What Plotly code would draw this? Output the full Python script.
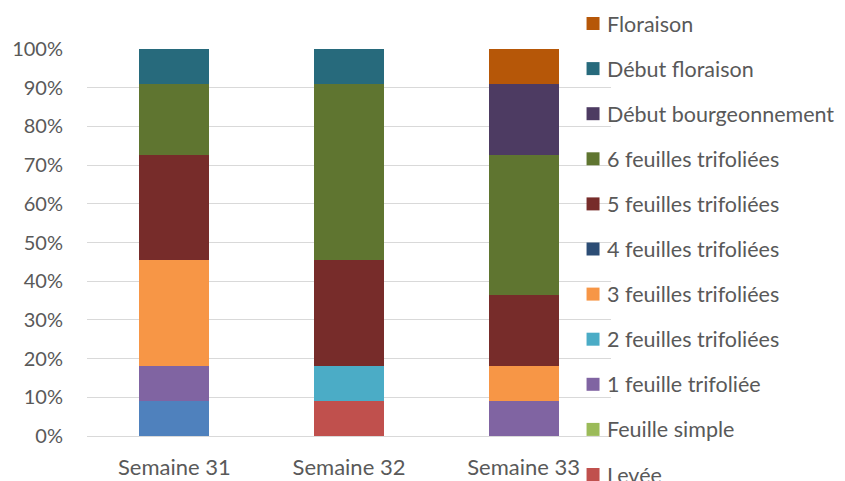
import plotly.graph_objects as go

categories = ["Semaine 31", "Semaine 32", "Semaine 33"]

series_names = [
    "Semis",
    "Levée",
    "Feuille simple",
    "1 feuille trifoliée",
    "2 feuilles trifoliées",
    "3 feuilles trifoliées",
    "4 feuilles trifoliées",
    "5 feuilles trifoliées",
    "6 feuilles trifoliées",
    "Début bourgeonnement",
    "Début floraison",
    "Floraison",
]

semis = [1, 0, 0]
levee = [0, 1, 0]
feuille_simple = [0, 0, 0]
f1 = [1, 0, 1]
f2 = [0, 1, 0]
f3 = [3, 0, 1]
f4 = [0, 0, 0]
f5 = [3, 3, 2]
f6 = [2, 5, 4]
debut_bourg = [0, 0, 2]
debut_flor = [1, 1, 0]
floraison = [0, 0, 1]

series_values = [semis, levee, feuille_simple, f1, f2, f3, f4, f5, f6,
                 debut_bourg, debut_flor, floraison]

# series shown in the (clipped) legend; the first series has no visible entry
legend_shown = [False] + [True] * 11

y_tick_vals = [0, 10, 20, 30, 40, 50, 60, 70, 80, 90, 100]
y_tick_text = ["0%", "10%", "20%", "30%", "40%", "50%", "60%", "70%", "80%", "90%", "100%"]

colors = ["#4F81BD", "#C0504D", "#9BBB59", "#8064A2", "#4BACC6", "#F79646",
          "#2C4D75", "#772C2A", "#5F7530", "#4D3B62", "#276A7C", "#B65708"]

font_family = "Lato, 'Open Sans', sans-serif"
text_color = "#595959"

# the page body has an 8px margin: work in figure pixels = viewport pixels - 8
OFF = 8
W, H = 845 - OFF, 481 - OFF
ML, MT = 86.5 - OFF, 49 - OFF
MR = W - (611.5 - OFF)
MB = H - (436 - OFF)
PW, PH = W - ML - MR, H - MT - MB


def px_to_paper_x(vx):
    return (vx - OFF - ML) / PW


def px_to_paper_y(vy):
    return (H - MB - (vy - OFF)) / PH


fig = go.Figure()
for i, (name, vals, col) in enumerate(zip(series_names, series_values, colors)):
    fig.add_trace(go.Bar(
        x=categories, y=vals, name=name,
        marker=dict(color=col, line=dict(width=0)),
        showlegend=False,
    ))

# manual legend (top = last series), drawn from the same lists
legend_items = [(n, c) for n, c, s in zip(series_names, colors, legend_shown) if s][::-1]
first_center, step = 23.5, 45.1
sq = 13
shapes = []
annotations = []
for k, (name, col) in enumerate(legend_items):
    cy = first_center + k * step
    shapes.append(dict(
        type="rect", xref="paper", yref="paper",
        x0=px_to_paper_x(587), x1=px_to_paper_x(587 + sq),
        y0=px_to_paper_y(cy + sq / 2), y1=px_to_paper_y(cy - sq / 2),
        fillcolor=col, line=dict(width=0), layer="above",
    ))
    annotations.append(dict(
        xref="paper", yref="paper",
        x=px_to_paper_x(605), y=px_to_paper_y(cy),
        xanchor="left", yanchor="middle", showarrow=False,
        text=name, font=dict(size=21.5, color=text_color, family=font_family),
    ))

fig.update_layout(
    width=W, height=H,
    barmode="stack", barnorm="percent", bargap=0.6,
    plot_bgcolor="white", paper_bgcolor="white",
    margin=dict(l=ML, r=MR, t=MT, b=MB, autoexpand=False),
    font=dict(family=font_family, color=text_color, size=20),
    showlegend=False,
    shapes=shapes,
    annotations=annotations,
    xaxis=dict(
        showgrid=False, showline=False, zeroline=False,
        ticks="outside", ticklen=12, tickcolor="rgba(0,0,0,0)",
        tickfont=dict(size=22),
    ),
    yaxis=dict(
        range=[0, 100], tickmode="array", tickvals=y_tick_vals, ticktext=y_tick_text,
        showgrid=True, gridcolor="#D9D9D9", gridwidth=1.3,
        zeroline=True, zerolinecolor="#D9D9D9", zerolinewidth=1.3,
        showline=False,
        ticks="outside", ticklen=19, tickcolor="rgba(0,0,0,0)",
        tickfont=dict(size=20),
    ),
)

fig.write_html("out.html")
